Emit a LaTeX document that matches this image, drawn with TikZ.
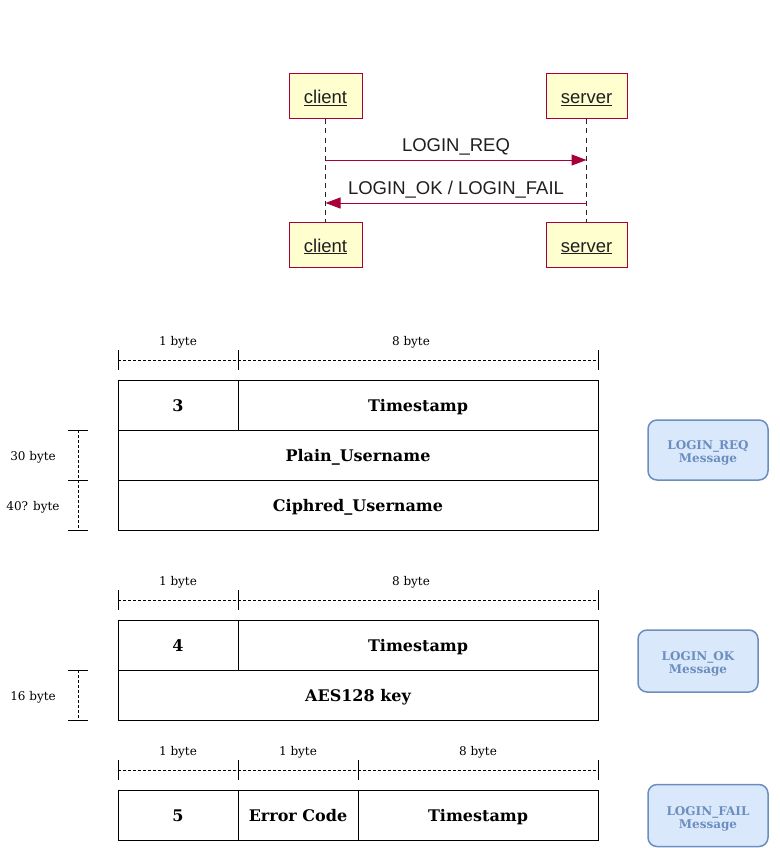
\documentclass[tikz,border=0pt]{standalone}
\usepackage{fontspec}
\setmainfont{DejaVu Serif}
\newfontfamily\seqfont{Liberation Sans}
\usetikzlibrary{arrows.meta}
\definecolor{seqred}{HTML}{A80036}
\definecolor{seqyellow}{HTML}{FEFECE}
\definecolor{bluefill}{HTML}{DAE8FC}
\definecolor{blueline}{HTML}{6C8EBF}
\definecolor{seqtext}{HTML}{1F1F1F}
\tikzset{
  actor/.style={draw=seqred, fill=seqyellow, line width=1pt, minimum height=45pt, inner sep=0pt,
    text height=17pt, text depth=2pt,
    text=seqtext, font=\seqfont\fontsize{18.5}{21}\selectfont},
  lifeline/.style={line width=1pt, dash pattern=on 5pt off 4pt, black!85},
  msg/.style={draw=seqred, line width=1pt, -{Triangle[length=15pt,width=11pt]}, seqred},
  msglabel/.style={text=seqtext, font=\seqfont\fontsize{18.5}{21}\selectfont, inner sep=0pt},
  cell/.style={draw, line width=0.8pt, inner sep=0pt, minimum height=50pt,
    text height=12.7pt, text depth=0pt, font=\bfseries\fontsize{16}{18}\selectfont},
  dim/.style={line width=0.7pt, dash pattern=on 3pt off 2pt},
  tick/.style={line width=0.8pt},
  bytelabel/.style={font=\fontsize{12}{14}\selectfont, inner sep=0pt, anchor=base},
  msgbox/.style={draw=blueline, fill=bluefill, line width=1.5pt, rounded corners=9pt,
    minimum width=120pt, inner sep=0pt},
  msgtext/.style={text=blueline, font=\bfseries\fontsize{12}{13}\selectfont, align=center, inner sep=0pt}
}
\begin{document}
\begin{tikzpicture}[x=1pt,y=-1pt]
\useasboundingbox (0,0) rectangle (779,848);
% ---------------- sequence diagram ----------------
\node[actor, minimum width=73pt] (c1) at (325.5,96.5) {\underline{client}};
\node[actor, minimum width=81pt] (s1) at (586.5,96.5) {\underline{server}};
\node[actor, minimum width=73pt] (c2) at (325.5,244.5) {\underline{client}};
\node[actor, minimum width=81pt] (s2) at (586.5,244.5) {\underline{server}};
\draw[lifeline] (c1.south) -- (c2.north);
\draw[lifeline] (s1.south) -- (s2.north);
\coordinate (cq) at (325.5,160);
\coordinate (sq) at (586.5,160);
\coordinate (cr) at (325.5,203);
\coordinate (sr) at (586.5,203);
\draw[msg] (cq) -- node[msglabel, above=4pt] (lreq) {LOGIN\_REQ} (sq);
\draw[msg] (sr) -- node[msglabel, above=4pt] (lok) {LOGIN\_OK / LOGIN\_FAIL} (cr);
% ---------------- table 1: LOGIN_REQ ----------------
\node[cell, minimum width=120pt] (t1a) at (178,405) {3};
\node[cell, minimum width=360pt] (t1b) at (418,405) {Timestamp};
\node[cell, minimum width=480pt] (t1c) at (358,455) {Plain\_Username};
\node[cell, minimum width=480pt] (t1d) at (358,505) {Ciphred\_Username};
\draw[dim] (118,360) -- (598,360);
\foreach \x in {118,238,598} \draw[tick] (\x,350) -- (\x,370);
\node[bytelabel] (b1a) at (178,345) {1 byte};
\node[bytelabel] (b1b) at (411,345) {8 byte};
\draw[dim] (78,430) -- (78,530);
\foreach \y in {430,480,530} \draw[tick] (68,\y) -- (88,\y);
\node[bytelabel] (b1c) at (33,460) {30 byte};
\node[bytelabel] (b1d) at (33,510) {40? byte};
\node[msgbox, minimum height=60pt] (m1) at (708,450) {};
\node[msgtext] (m1t) at (708,453) {LOGIN\_REQ\\Message};
% ---------------- table 2: LOGIN_OK ----------------
\node[cell, minimum width=120pt] (t2a) at (178,645) {4};
\node[cell, minimum width=360pt] (t2b) at (418,645) {Timestamp};
\node[cell, minimum width=480pt] (t2c) at (358,695) {AES128 key};
\draw[dim] (118,600) -- (598,600);
\foreach \x in {118,238,598} \draw[tick] (\x,590) -- (\x,610);
\node[bytelabel] (b2a) at (178,585) {1 byte};
\node[bytelabel] (b2b) at (411,585) {8 byte};
\draw[dim] (78,670) -- (78,720);
\foreach \y in {670,720} \draw[tick] (68,\y) -- (88,\y);
\node[bytelabel] (b2c) at (33,700) {16 byte};
\node[msgbox, minimum height=62pt] (m2) at (698,661) {};
\node[msgtext] (m2t) at (698,664) {LOGIN\_OK\\Message};
% ---------------- table 3: LOGIN_FAIL ----------------
\node[cell, minimum width=120pt] (t3a) at (178,815) {5};
\node[cell, minimum width=120pt] (t3b) at (298,815) {Error Code};
\node[cell, minimum width=240pt] (t3c) at (478,815) {Timestamp};
\draw[dim] (118,770) -- (598,770);
\foreach \x in {118,238,358,598} \draw[tick] (\x,760) -- (\x,780);
\node[bytelabel] (b3a) at (178,755) {1 byte};
\node[bytelabel] (b3b) at (298,755) {1 byte};
\node[bytelabel] (b3c) at (478,755) {8 byte};
\node[msgbox, minimum height=62pt] (m3) at (708,815.5) {};
\node[msgtext] (m3t) at (708,818.5) {LOGIN\_FAIL\\Message};
\end{tikzpicture}
\end{document}
